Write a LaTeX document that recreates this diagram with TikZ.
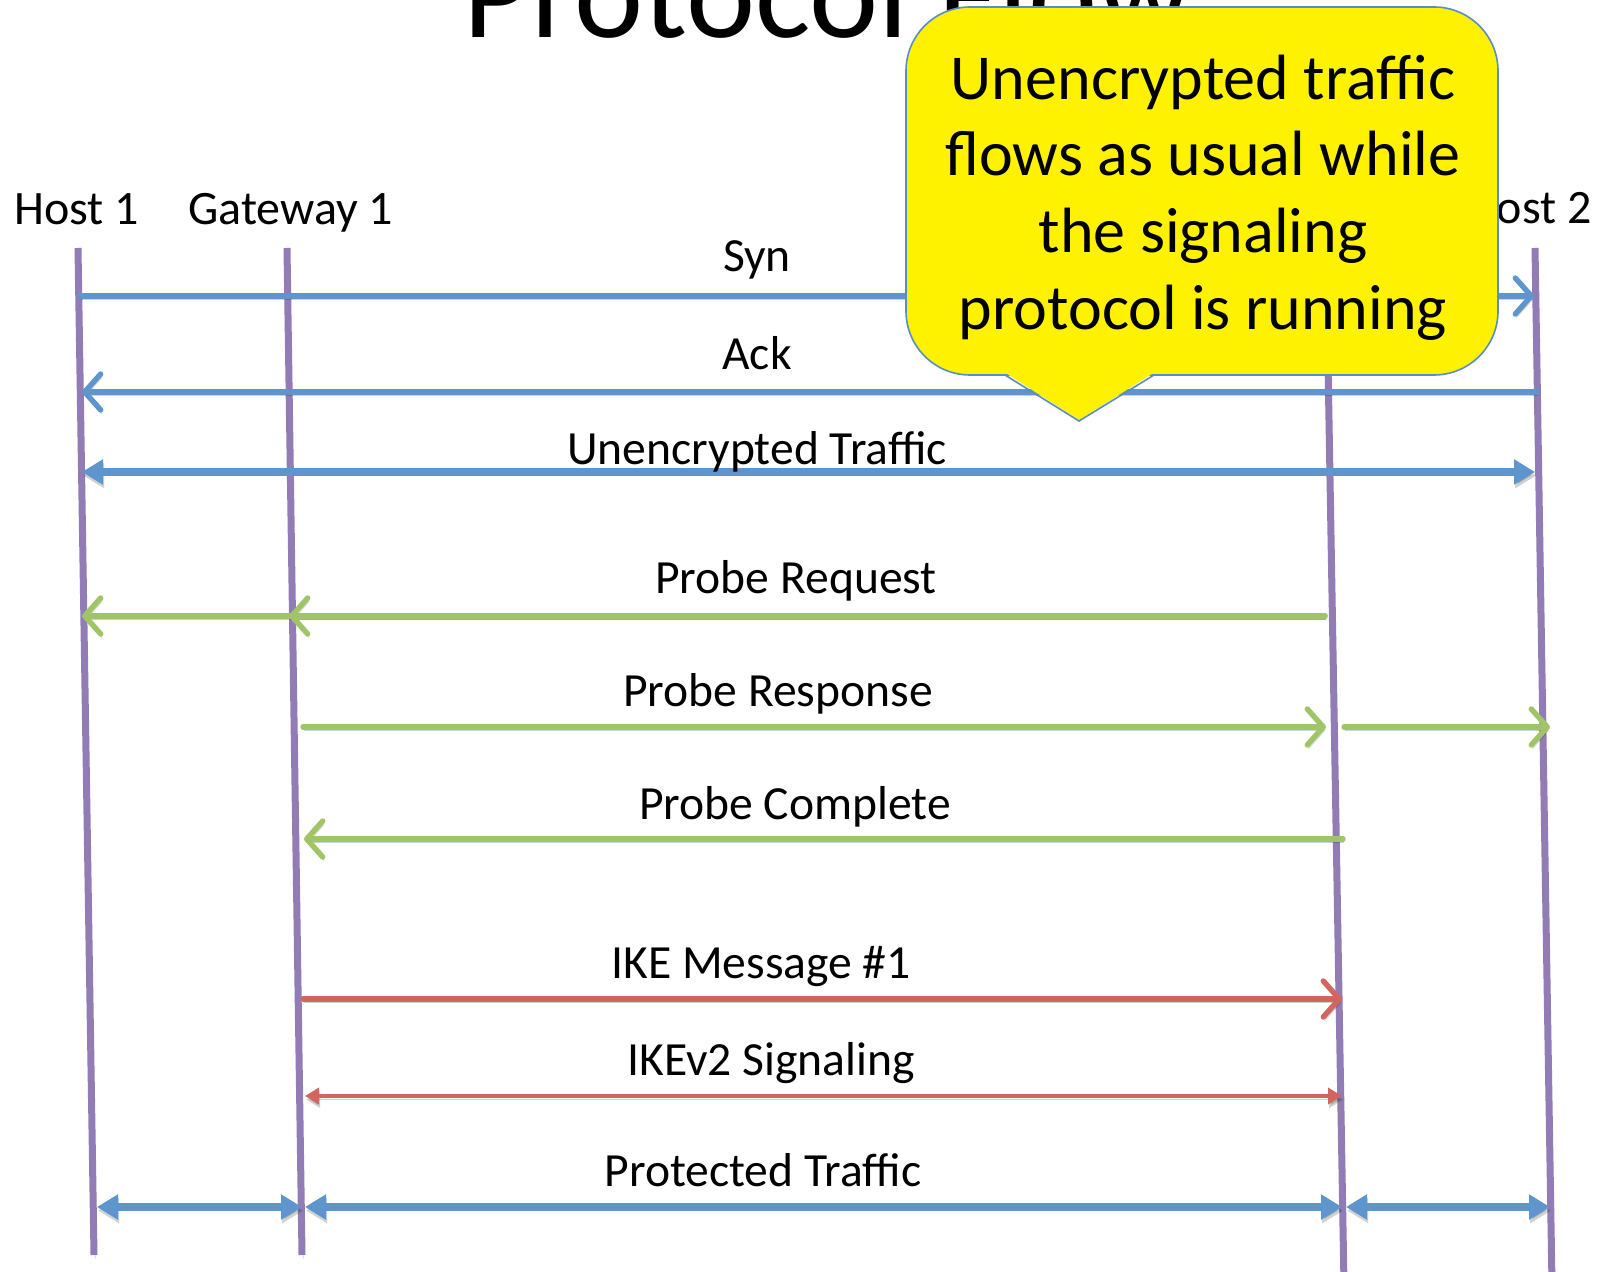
\documentclass[tikz,border=0pt]{standalone}
\usepackage{fontspec}
\setmainfont{Carlito}
\usetikzlibrary{arrows.meta,calc}

\definecolor{lifeC}{RGB}{146,124,182}
\definecolor{blueC}{RGB}{94,149,204}
\definecolor{greenC}{RGB}{160,196,104}
\definecolor{redC}{RGB}{208,102,96}
\definecolor{noteEdge}{RGB}{90,140,200}

\begin{document}
\begin{tikzpicture}[x=0.5pt,y=-0.5pt,
  shade/.style={preaction={draw=black,opacity=0.18,transform canvas={xshift=0.6pt,yshift=-1.8pt}}},
  lifeline/.style={draw=lifeC,line width=3.5pt,shade},
  msg/.style={line width=2.7pt,line cap=round,shade,
    -{Straight Barb[length=8pt,width=18pt,round]}},
  bothway/.style={line width=4pt,shade,
    {Triangle[length=10.5pt,width=12pt]}-{Triangle[length=10.5pt,width=12pt]}},
  smallboth/.style={line width=2.3pt,shade,
    {Triangle[length=7pt,width=8pt]}-{Triangle[length=7pt,width=8pt]}},
  actor/.style={font=\fontsize{24pt}{28pt}\selectfont,inner sep=0pt},
  msglabel/.style={font=\fontsize{23.8pt}{28pt}\selectfont,inner sep=0pt,anchor=base},
  notetext/.style={font=\fontsize{32pt}{38pt}\selectfont,inner sep=0pt,anchor=base}]

\useasboundingbox (0,0) rectangle (1601,1272);
\clip (0,0) rectangle (1601,1272);
\fill[white] (0,0) rectangle (1601,1272);

% heading
\node[font=\fontsize{65.5pt}{70pt}\selectfont,inner sep=0pt,anchor=base west]
  (title) at (463,38) {Protocol Flow};

% participants
\node[actor,anchor=base west] (host1) at (14,225) {Host 1};
\node[actor,anchor=base west] (gw1) at (188,225) {Gateway 1};
\node[actor,anchor=base east] (host2) at (1592,224) {Host 2};

% lifelines
\coordinate (H1t) at (78,248);   \coordinate (H1b) at (94,1255);
\coordinate (G1t) at (287,248);  \coordinate (G1b) at (302,1255);
\coordinate (G2t) at (1326,248); \coordinate (G2b) at (1344,1285);
\coordinate (H2t) at (1535,248); \coordinate (H2b) at (1552,1285);
\draw[lifeline] (H1t) -- (H1b);
\draw[lifeline] (G1t) -- (G1b);
\draw[lifeline] (G2t) -- (G2b);
\draw[lifeline] (H2t) -- (H2b);

% message end points
\coordinate (synA) at (80,296);   \coordinate (synB) at (1534,296);
\coordinate (ackA) at (1537,392); \coordinate (ackB) at (82,392);
\coordinate (unA) at (82,472);    \coordinate (unB) at (1535,472);
\coordinate (preqA) at (1325,616); \coordinate (preqG) at (289,616); \coordinate (preqB) at (82,616);
\coordinate (presA) at (303,727); \coordinate (presB) at (1326,727);
\coordinate (presC) at (1344,727); \coordinate (presD) at (1550,727);
\coordinate (pcA) at (1343,839);  \coordinate (pcB) at (304,839);
\coordinate (ikeA) at (303,999);  \coordinate (ikeB) at (1342,999);
\coordinate (sigA) at (305,1096); \coordinate (sigB) at (1342,1096);
\coordinate (ptA) at (97,1207);   \coordinate (ptB) at (302,1207);
\coordinate (ptC) at (305,1207);  \coordinate (ptD) at (1342,1207);
\coordinate (ptE) at (1346,1207); \coordinate (ptF) at (1550,1207);

% unencrypted exchange
\draw[msg,blueC] (synA) -- (synB);
\draw[msg,blueC] (ackA) -- (ackB);
\draw[bothway,blueC] (unA) -- (unB);

% probing
\draw[msg,greenC] (preqA) -- (preqB);
\draw[msg,greenC] (preqA) -- (preqG);
\draw[msg,greenC] (presA) -- (presB);
\draw[msg,greenC] (presC) -- (presD);
\draw[msg,greenC] (pcA) -- (pcB);

% key exchange
\draw[msg,redC] (ikeA) -- (ikeB);
\draw[smallboth,redC] (sigA) -- (sigB);

% protected data
\draw[bothway,blueC] (ptA) -- (ptB);
\draw[bothway,blueC] (ptC) -- (ptD);
\draw[bothway,blueC] (ptE) -- (ptF);

% message labels
\node[msglabel] (synL) at (757,272) {Syn};
\node[msglabel] (ackL) at (757,370) {Ack};
\node[msglabel] (unL) at (757,465) {Unencrypted Traffic};
\node[msglabel] (preqL) at (796,594) {Probe Request};
\node[msglabel] (presL) at (778,706) {Probe Response};
\node[msglabel] (pcL) at (795,819) {Probe Complete};
\node[msglabel] (ikeL) at (761,978) {IKE Message \#1};
\node[msglabel] (sigL) at (771,1075) {IKEv2 Signaling};
\node[msglabel] (ptL) at (763,1186) {Protected Traffic};

% speech bubble
\node[draw=noteEdge,line width=0.8pt,fill=yellow,rounded corners=32pt,
  minimum width=296pt,minimum height=184pt,inner sep=0pt] (note) at (1202,191) {};
\fill[yellow] (1004,372) -- (1079,420) -- (1155,372) -- cycle;
\draw[noteEdge,line width=0.8pt,line join=miter] (1005,375) -- (1079,421) -- (1154,375);
\coordinate (tip) at (1079,421);
\node[notetext] (n1) at (1203,100) {Unencrypted traffic};
\node[notetext] (n2) at (1203,176) {flows as usual while};
\node[notetext] (n3) at (1203,253) {the signaling};
\node[notetext] (n4) at (1203,330) {protocol is running};
\end{tikzpicture}
\end{document}
